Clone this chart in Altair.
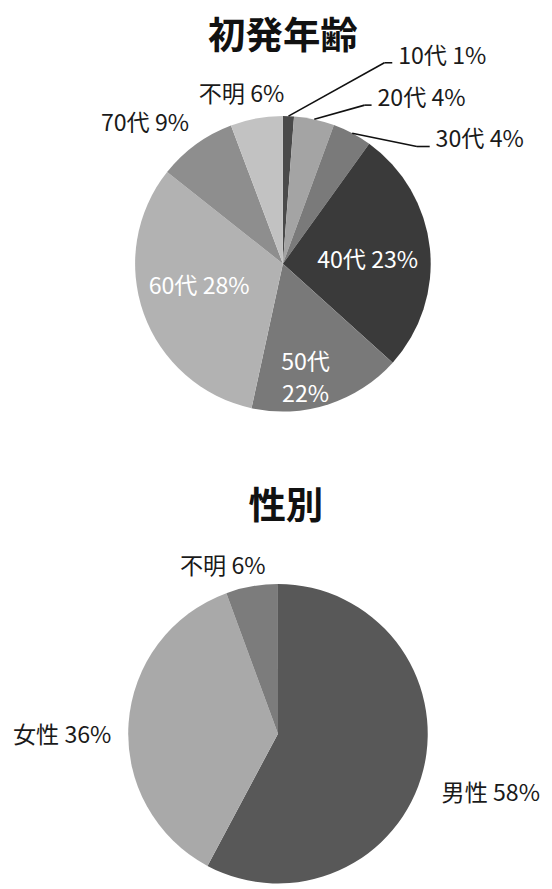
import math
import altair as alt
import pandas as pd

# ---------------- data ----------------
age_cats = ["10代", "20代", "30代", "40代", "50代", "60代", "70代", "不明"]
age_pct_text = ["1%", "4%", "4%", "23%", "22%", "28%", "9%", "6%"]
age_share = [1.2, 4.4, 4.3, 26.7, 16.7, 32.2, 8.6, 5.7]   # slice sizes

sex_cats = ["男性", "女性", "不明"]
sex_pct_text = ["58%", "36%", "6%"]
sex_share = [57.8, 36.6, 5.6]

age_title = "初発年齢"
sex_title = "性別"

# ---------------- style / layout ----------------
age_colors = ["#4a4a4a", "#a4a4a4", "#7a7a7a", "#3a3a3a", "#797979", "#b2b2b2", "#8e8e8e", "#c2c2c2"]
sex_colors = ["#585858", "#a9a9a9", "#7c7c7c"]

TOP = 8  # extra room above the content
W, H = 544, 881 - TOP
AGE_C = (279, 253 - TOP)
AGE_R = 150
SEX_C = (274, 730 - TOP)
SEX_R = 152

FONT = "Noto Sans CJK JP"
FS = 23.5

# label placement (offsets from pie centre, px)
age_label_mode = ["leader", "leader", "leader", "inside", "inside", "inside", "outside", "outside"]
age_label_off = {3: (86, -3), 4: (23, 101), 5: (-85, 24), 6: (-140, -142), 7: (-42, -171)}
age_leader_elbow = {0: (103, -204), 1: (83, -161), 2: (136, -119)}
age_leader_tail = {0: 8, 1: 7, 2: 13}
sex_label_off = [(216, 61), (-219, 2), (-56, -169)]


def mids(values):
    tot = sum(values)
    out, cum = [], 0.0
    for v in values:
        out.append(2 * math.pi * (cum + v / 2) / tot)
        cum += v
    return out


age_df = pd.DataFrame({"cat": age_cats, "share": age_share, "idx": list(range(len(age_cats)))})
sex_df = pd.DataFrame({"cat2": sex_cats, "share": sex_share, "idx": list(range(len(sex_cats)))})

age_mid = mids(age_share)

inside_rows, outside_rows, leader_text_rows, rule_rows = [], [], [], []
for i, (c, p) in enumerate(zip(age_cats, age_pct_text)):
    mode = age_label_mode[i]
    if mode == "leader":
        sx = AGE_C[0] + AGE_R * math.sin(age_mid[i])
        sy = AGE_C[1] - AGE_R * math.cos(age_mid[i])
        ex = AGE_C[0] + age_leader_elbow[i][0]
        ey = AGE_C[1] + age_leader_elbow[i][1]
        tx = ex + age_leader_tail[i]
        rule_rows.append({"x": sx, "y": sy, "x2": ex, "y2": ey})
        rule_rows.append({"x": ex, "y": ey, "x2": tx, "y2": ey})
        leader_text_rows.append({"x": tx + 6, "y": ey - 6, "t": f"{c} {p}"})
    elif mode == "inside":
        dx, dy = age_label_off[i]
        t = f"{c}\n{p}" if c == "50代" else f"{c} {p}"
        inside_rows.append({"x": AGE_C[0] + dx, "y": AGE_C[1] + dy, "t": t})
    else:
        dx, dy = age_label_off[i]
        outside_rows.append({"x": AGE_C[0] + dx, "y": AGE_C[1] + dy, "t": f"{c} {p}"})

for i, (c, p) in enumerate(zip(sex_cats, sex_pct_text)):
    dx, dy = sex_label_off[i]
    outside_rows.append({"x": SEX_C[0] + dx, "y": SEX_C[1] + dy, "t": f"{c} {p}"})

title_df = pd.DataFrame([
    {"x": AGE_C[0], "y": AGE_C[1] - 229, "t": age_title},
    {"x": SEX_C[0] + 8, "y": SEX_C[1] - 229, "t": sex_title},
])

xs = alt.Scale(domain=[0, W], range=[0, W], nice=False, zero=False)
ys = alt.Scale(domain=[0, H], range=[0, H], nice=False, zero=False)
X = alt.X("x:Q", scale=xs, axis=None)
Y = alt.Y("y:Q", scale=ys, axis=None)

age_arc = alt.Chart(age_df).mark_arc(outerRadius=AGE_R, strokeWidth=0).encode(
    theta=alt.Theta("share:Q", stack=True),
    color=alt.Color("cat:N", scale=alt.Scale(domain=age_cats, range=age_colors), legend=None),
    order=alt.Order("idx:Q"),
    x=alt.value(AGE_C[0]),
    y=alt.value(AGE_C[1]),
)

sex_arc = alt.Chart(sex_df).mark_arc(outerRadius=SEX_R, strokeWidth=0).encode(
    theta=alt.Theta("share:Q", stack=True),
    color=alt.Color("cat2:N", scale=alt.Scale(domain=sex_cats, range=sex_colors), legend=None),
    order=alt.Order("idx:Q"),
    x=alt.value(SEX_C[0]),
    y=alt.value(SEX_C[1]),
)

rules = alt.Chart(pd.DataFrame(rule_rows)).mark_rule(color="#111111", strokeWidth=1.6).encode(
    x=X, y=Y, x2="x2:Q", y2="y2:Q"
)

leader_txt = alt.Chart(pd.DataFrame(leader_text_rows)).mark_text(
    align="left", baseline="middle", font=FONT, fontSize=FS, color="#1a1a1a"
).encode(x=X, y=Y, text="t:N")

outside_txt = alt.Chart(pd.DataFrame(outside_rows)).mark_text(
    align="center", baseline="middle", font=FONT, fontSize=FS, color="#1a1a1a"
).encode(x=X, y=Y, text="t:N")

inside_txt = alt.Chart(pd.DataFrame(inside_rows)).mark_text(
    align="center", baseline="middle", font=FONT, fontSize=FS, color="#ffffff",
    lineBreak="\n", lineHeight=32
).encode(x=X, y=Y, text="t:N")

titles = alt.Chart(title_df).mark_text(
    align="center", baseline="middle", font=FONT, fontSize=38, fontWeight="bold", color="#111111"
).encode(x=X, y=Y, text="t:N")

chart = alt.layer(
    age_arc, sex_arc, rules, leader_txt, outside_txt, inside_txt, titles
).resolve_scale(
    theta="independent", color="independent"
).properties(
    width=W, height=H,
    padding={"top": TOP, "left": 0, "right": 0, "bottom": 0},
    autosize=alt.AutoSizeParams(type="none"),
    background="white"
).configure_view(strokeWidth=0)

chart.save("out.html", embed_options={"renderer": "svg", "actions": False})
